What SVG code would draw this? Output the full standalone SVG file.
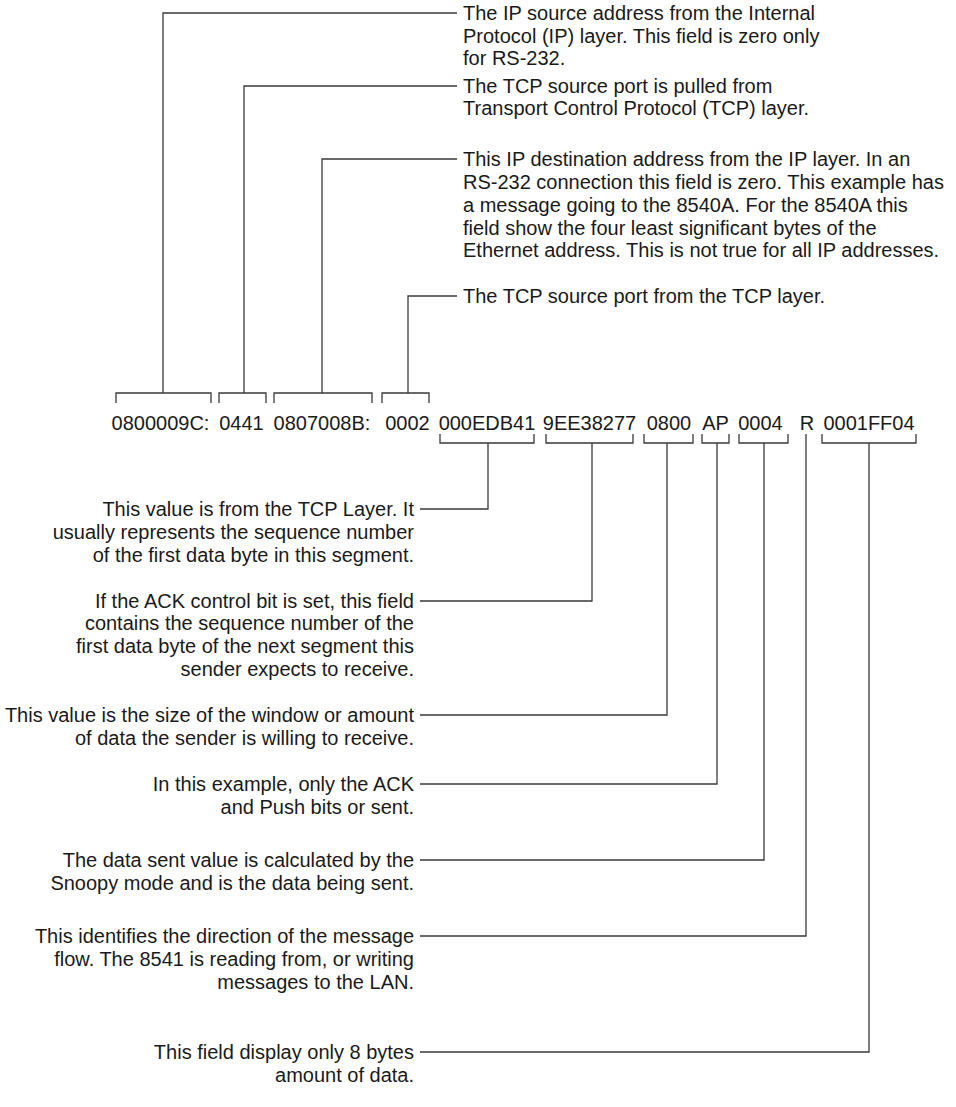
<svg xmlns="http://www.w3.org/2000/svg" width="956" height="1107" viewBox="0 0 956 1107">
<style>
text{font-family:"Liberation Sans",Arial,sans-serif;font-size:20px;fill:#1a1a1a}
.hex{text-anchor:middle}
.r{text-anchor:end}
.c{fill:none;stroke:#3a3a3a;stroke-width:1.3}
</style>
<rect width="956" height="1107" fill="#fff"/>
<g id="connectors" class="c">
<path class="c" d="M116,403V393H211V403M163,393V13H457"/>
<path class="c" d="M219,403V393H266V403M244,393V86H457"/>
<path class="c" d="M274,403V393H372V403M322,393V159H457"/>
<path class="c" d="M382,403V393H429V403M408,393V296H457"/>
<path class="c" d="M440,434V443H534V434M488,443V509H420"/>
<path class="c" d="M546,434V443H633V434M592,443V601H420"/>
<path class="c" d="M644,434V443H693V434M667,443V715H420"/>
<path class="c" d="M702,434V443H729V434M717,443V784H420"/>
<path class="c" d="M739,434V443H788V434M764,443V860H420"/>
<path class="c" d="M806,434V936H420"/>
<path class="c" d="M822,434V443H916V434M869,443V1052H420"/>
</g>
<g id="fields">
<text class="hex" x="160.5" y="430">0800009C:</text>
<text class="hex" x="241.5" y="430">0441</text>
<text class="hex" x="322" y="430">0807008B:</text>
<text class="hex" x="407.5" y="430">0002</text>
<text class="hex" x="487" y="430">000EDB41</text>
<text class="hex" x="589.5" y="430">9EE38277</text>
<text class="hex" x="669" y="430">0800</text>
<text class="hex" x="715.5" y="430">AP</text>
<text class="hex" x="760.5" y="430">0004</text>
<text class="hex" x="807" y="430">R</text>
<text class="hex" x="869" y="430">0001FF04</text>
</g>
<g id="ip-source">
<text x="463" y="20">The IP source address from the Internal</text>
<text x="463" y="43">Protocol (IP) layer. This field is zero only</text>
<text x="463" y="65">for RS-232.</text>
</g>
<g id="tcp-source-port">
<text x="463" y="93">The TCP source port is pulled from</text>
<text x="463" y="115">Transport Control Protocol (TCP) layer.</text>
</g>
<g id="ip-destination">
<text x="463" y="166">This IP destination address from the IP layer. In an</text>
<text x="463" y="189">RS-232 connection this field is zero. This example has</text>
<text x="463" y="212">a message going to the 8540A. For the 8540A this</text>
<text x="463" y="235">field show the four least significant bytes of the</text>
<text x="463" y="257">Ethernet address. This is not true for all IP addresses.</text>
</g>
<g id="tcp-port">
<text x="463" y="303">The TCP source port from the TCP layer.</text>
</g>
<g id="sequence">
<text class="r" x="414" y="516">This value is from the TCP Layer. It</text>
<text class="r" x="414" y="539">usually represents the sequence number</text>
<text class="r" x="414" y="562">of the first data byte in this segment.</text>
</g>
<g id="ack">
<text class="r" x="414" y="608">If the ACK control bit is set, this field</text>
<text class="r" x="414" y="630">contains the sequence number of the</text>
<text class="r" x="414" y="653">first data byte of the next segment this</text>
<text class="r" x="414" y="676">sender expects to receive.</text>
</g>
<g id="window">
<text class="r" x="414" y="722">This value is the size of the window or amount</text>
<text class="r" x="414" y="745">of data the sender is willing to receive.</text>
</g>
<g id="flags">
<text class="r" x="414" y="791">In this example, only the ACK</text>
<text class="r" x="414" y="814">and Push bits or sent.</text>
</g>
<g id="data-sent">
<text class="r" x="414" y="867">The data sent value is calculated by the</text>
<text class="r" x="414" y="890">Snoopy mode and is the data being sent.</text>
</g>
<g id="direction">
<text class="r" x="414" y="943">This identifies the direction of the message</text>
<text class="r" x="414" y="966">flow. The 8541 is reading from, or writing</text>
<text class="r" x="414" y="989">messages to the LAN.</text>
</g>
<g id="data">
<text class="r" x="414" y="1059">This field display only 8 bytes</text>
<text class="r" x="414" y="1082">amount of data.</text>
</g>
</svg>
